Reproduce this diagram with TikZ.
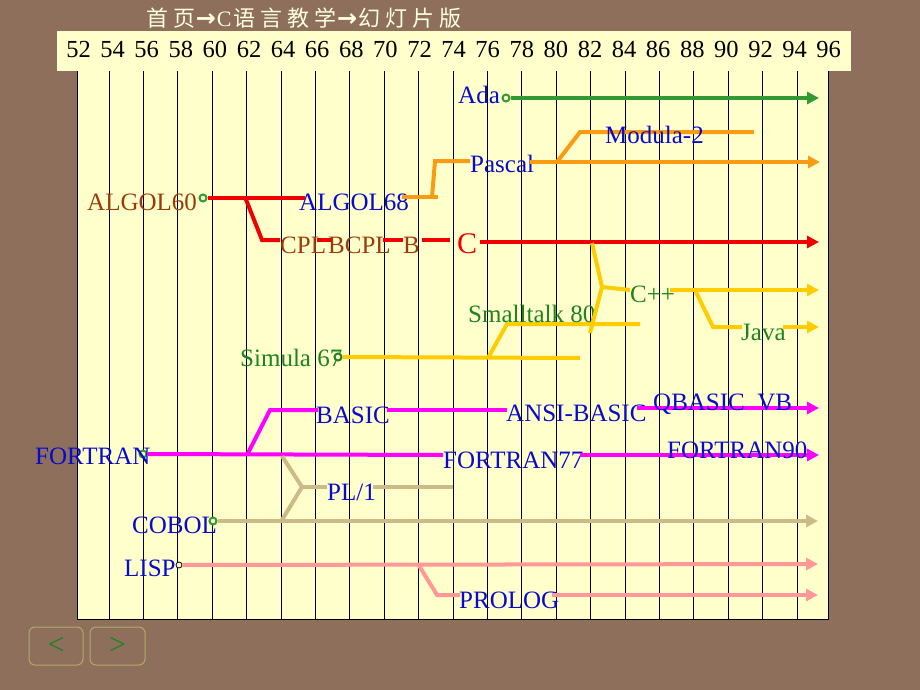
\documentclass[tikz,border=0pt]{standalone}
\usepackage{fontspec}
\setmainfont{Liberation Serif}
\newfontfamily\cjk[LetterSpace=23]{Noto Sans CJK SC}
\newfontfamily\arrfont{DejaVu Sans}
\usetikzlibrary{arrows.meta}
\definecolor{bgbrown}{RGB}{141,111,92}
\definecolor{chartbg}{RGB}{255,255,204}
\definecolor{headtxt}{RGB}{255,255,225}
\definecolor{lblue}{RGB}{10,10,205}
\definecolor{lbrown}{RGB}{153,60,10}
\definecolor{lgreen}{RGB}{30,130,30}
\definecolor{cgreen}{RGB}{51,153,51}
\definecolor{cred}{RGB}{240,0,0}
\definecolor{corange}{RGB}{250,155,20}
\definecolor{cyellow}{RGB}{255,204,0}
\definecolor{cmag}{RGB}{255,0,255}
\definecolor{ctan}{RGB}{204,187,136}
\definecolor{cpink}{RGB}{255,153,153}
\definecolor{btnline}{RGB}{175,170,105}
\tikzset{
  lab/.style={anchor=base west, inner sep=0pt, font=\fontsize{25}{25}\selectfont},
  yr/.style={anchor=base, inner sep=0pt, font=\fontsize{24.5}{24.5}\selectfont},
  ln/.style={line width=4pt},
  arr/.style={-{Triangle[length=12pt,width=12pt]}},
  dot/.style={circle, draw=cgreen, line width=2pt, minimum size=7pt, inner sep=0pt, fill=chartbg},
  grid/.style={line width=0.9pt, black},
  btn/.style={draw=btnline, line width=1pt, rounded corners=6pt},
  btntxt/.style={text=lgreen, inner sep=0pt, font=\fontsize{30}{30}\selectfont}
}
\newcommand{\hdarrow}{{\arrfont\bfseries\fontsize{24}{24}\selectfont\kern0.5pt→\kern1pt}}
\begin{document}
\begin{tikzpicture}[x=1pt,y=-1pt]
\fill[bgbrown] (0,0) rectangle (920,690);
\useasboundingbox (0,0) rectangle (920,690);
% chart area
\fill[chartbg] (77,71) rectangle (828,619);
\foreach \k in {0,...,20}{
  \draw[grid] ({109+34.4*\k},71) -- ({109+34.4*\k},619);
}
\draw[line width=1pt] (77,71) -- (77,619) -- (828,619) -- (828,71);
% header
\fill[chartbg] (57,31) rectangle (851,71);
\foreach \y [count=\i from 0] in {52,54,...,96}{
  \node[yr] (y\y) at ({78.5+34.1*\i},58) {\y};
}
\node[anchor=base west, inner sep=0pt, text=headtxt, font=\fontsize{22}{22}\selectfont] (title) at (146,27)
  {{\cjk 首页}\hdarrow{\rmfamily C}\kern2pt{\cjk 语言教学}\hdarrow{\cjk 幻灯片版}};

% ---------- Ada ----------
\node[lab, text=lblue] (ada) at (458,104) {Ada};
\node[dot] (adadot) at (506,98) {};
\coordinate (adaend) at (819,98);
\draw[ln, cgreen, arr] (adadot.east) -- (adaend);

% ---------- ALGOL ----------
\node[lab, text=lbrown] (algol60) at (87,210) {ALGOL60};
\node[dot] (a60dot) at (203,198) {};
\node[lab, text=lblue] (algol68) at (299,210) {ALGOL68};
\coordinate (a60e) at (305,198);
\coordinate (cplbr) at (245,197);
\coordinate (cplk) at (262,240);
\coordinate (cpls) at (280,240);
\draw[ln, cred] (a60dot.east) -- (a60e);
\draw[ln, cred] (cplbr) -- (cplk) -- (cpls);
\node[lab, text=lbrown] (cpl) at (280,253) {CPL};
\node[lab, text=lbrown] (bcpl) at (328,253) {BCPL};
\node[lab, text=lbrown] (b) at (403,253) {B};
\coordinate (d1a) at (317,240); \coordinate (d1b) at (331,240);
\coordinate (d2a) at (383,240); \coordinate (d2b) at (403,240);
\coordinate (d3a) at (422,240); \coordinate (d3b) at (450,240);
\draw[ln, cred] (d1a) -- (d1b);
\draw[ln, cred] (d2a) -- (d2b);
\draw[ln, cred] (d3a) -- (d3b);
\node[anchor=base west, inner sep=0pt, text=cred, font=\fontsize{30}{30}\selectfont] (c) at (457,253) {C};
\coordinate (cs) at (480,242);
\coordinate (ce) at (819,242);
\draw[ln, cred, arr] (cs) -- (ce);

% ---------- Pascal / Modula-2 ----------
\coordinate (a68s) at (402,197);
\coordinate (a68e) at (438,197);
\coordinate (pk1) at (432,197);
\coordinate (pk2) at (435,161);
\coordinate (pk3) at (470,161);
\draw[ln, corange] (a68s) -- (a68e);
\draw[ln, corange] (pk1) -- (pk2) -- (pk3);
\node[lab, text=lblue] (pascal) at (470,172) {Pascal};
\coordinate (ps) at (530,162);
\coordinate (pe) at (820,162);
\draw[ln, corange, arr] (ps) -- (pe);
\coordinate (mbr) at (557,162);
\coordinate (mk) at (580,132);
\coordinate (me) at (754,132);
\draw[ln, corange] (mbr) -- (mk) -- (me);
\node[lab, text=lblue] (modula) at (605,143) {Modula-2};

% ---------- Simula / Smalltalk / C++ / Java ----------
\node[lab, text=lgreen] (simula) at (240,366) {Simula 67};
\node[dot, draw=lgreen] (simdot) at (338,357) {};
\coordinate (sime) at (580,358);
\draw[ln, cyellow] (simdot.east) -- (sime);
\coordinate (stbr) at (488,358);
\coordinate (stk) at (507,324);
\coordinate (ste) at (640,324);
\draw[ln, cyellow] (stbr) -- (stk) -- (ste);
\node[lab, text=lgreen] (smalltalk) at (468,322) {Smalltalk 80};
\coordinate (cpa) at (592,243);
\coordinate (cpm) at (602,287);
\coordinate (cpb) at (590,333);
\draw[ln, cyellow] (cpa) -- (cpm) -- (cpb);
\coordinate (cpp1) at (630,290);
\draw[ln, cyellow] (cpm) -- (cpp1);
\node[lab, text=lgreen] (cpp) at (630,302) {C++};
\coordinate (cpps) at (670,290);
\coordinate (cppe) at (819,290);
\draw[ln, cyellow, arr] (cpps) -- (cppe);
\coordinate (jbr) at (695,290);
\coordinate (jk) at (713,327);
\coordinate (jl) at (742,327);
\draw[ln, cyellow] (jbr) -- (jk) -- (jl);
\node[lab, text=lgreen] (java) at (741,340) {Java};
\coordinate (js) at (783,327);
\coordinate (je) at (819,327);
\draw[ln, cyellow, arr] (js) -- (je);

% ---------- FORTRAN / BASIC ----------
\node[dot] (fdot) at (143,454) {};
\node[lab, text=lblue] (fortran) at (35,464) {FORTRAN};
\coordinate (fe1) at (443,455);
\draw[ln, cmag] (fdot.east) -- (fe1);
\node[lab, text=lblue] (f77) at (443,468) {FORTRAN77};
\coordinate (f2s) at (580,455);
\coordinate (f2e) at (819,455);
\draw[ln, cmag, arr] (f2s) -- (f2e);
\node[lab, text=lblue] (f90) at (667,458) {FORTRAN90};
\coordinate (bbr) at (247,455);
\coordinate (bk) at (270,410);
\coordinate (bl) at (318,410);
\draw[ln, cmag] (bbr) -- (bk) -- (bl);
\node[lab, text=lblue] (basic) at (316,423) {BASIC};
\coordinate (b2s) at (387,410);
\coordinate (b2e) at (507,410);
\draw[ln, cmag] (b2s) -- (b2e);
\node[lab, text=lblue] (ansi) at (506,421) {ANSI-BASIC};
\coordinate (qs) at (637,408);
\coordinate (qe) at (819,408);
\draw[ln, cmag, arr] (qs) -- (qe);
\node[lab, text=lblue] (qbasic) at (653,410) {QBASIC\ \ VB};

% ---------- PL/1 / COBOL ----------
\coordinate (pla) at (282,456);
\coordinate (plm) at (302,487);
\coordinate (plb) at (282,520);
\coordinate (pll) at (327,487);
\draw[ln, ctan] (pla) -- (plm) -- (plb);
\draw[ln, ctan] (plm) -- (pll);
\node[lab, text=lblue] (pl1) at (327,500) {PL/1};
\coordinate (pl2s) at (373,487);
\coordinate (pl2e) at (453,487);
\draw[ln, ctan] (pl2s) -- (pl2e);
\node[lab, text=lblue] (cobol) at (132,533) {COBOL};
\node[dot] (cdot) at (213,521) {};
\coordinate (coe) at (818,521);
\draw[ln, ctan, arr] (cdot.east) -- (coe);

% ---------- LISP / PROLOG ----------
\node[lab, text=lblue] (lisp) at (124,576) {LISP};
\node[circle, draw=black, line width=0.8pt, minimum size=6pt, inner sep=0pt, fill=chartbg] (ldot) at (179,565) {};
\coordinate (le) at (818,564);
\draw[ln, cpink, arr] (ldot.east) -- (le);
\coordinate (prbr) at (418,564);
\coordinate (prk) at (437,595);
\coordinate (prl) at (460,595);
\draw[ln, cpink] (prbr) -- (prk) -- (prl);
\node[lab, text=lblue] (prolog) at (459,608) {PROLOG};
\coordinate (prs) at (552,595);
\coordinate (pre) at (818,595);
\draw[ln, cpink, arr] (prs) -- (pre);

% ---------- buttons ----------
\draw[btn] (29,627) rectangle (83,665);
\draw[btn] (90,627) rectangle (145,665);
\node[btntxt] (prev) at (56,646) {<};
\node[btntxt] (next) at (117.5,646) {>};
\end{tikzpicture}
\end{document}
